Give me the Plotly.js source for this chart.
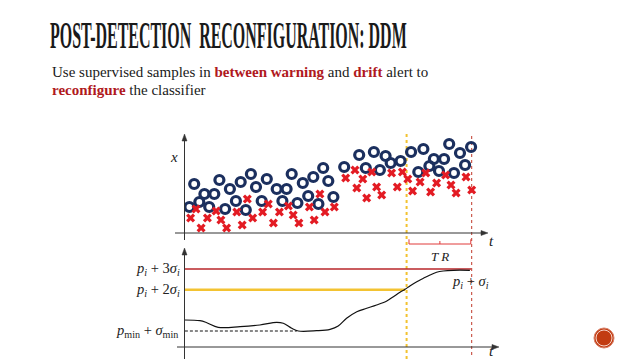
<!DOCTYPE html>
<html>
<head>
<meta charset="utf-8">
<script src="https://cdn.plot.ly/plotly-3.0.1.min.js"></script>
<style>
html,body{margin:0;padding:0;background:#fff;}
#chart{width:638px;height:359px;}
.gtitle{transform-box:fill-box;transform-origin:0% 50%;transform:scaleX(0.42);}
</style>
</head>
<body>
<div id="chart"></div>
<script>
// ---- Top panel: samples over time (t) vs feature value (x) ----
const circleT = [1.8,3.4,5.1,6.8,8.4,10.1,11.8,13.7,15.3,17.3,18.9,20.6,22.3,24.0,25.9,27.6,30.9,32.8,34.2,35.9,37.8,39.6,41.4,43.1,44.8,46.4,48.1,49.8,53.4,58.4,60.6,63.3,65.3,67.2,68.9,72.2,75.7,78.1,79.8,81.8,83.3,85.0,86.7,88.4,90.0,92.0,93.7,95.7];
const circleX = [2.6,4.9,3.1,3.9,2.6,3.9,5.3,2.4,4.4,3.2,5.1,2.3,5.9,4.6,3.2,5.4,4.4,3.2,4.4,5.9,3.0,5.0,3.7,5.6,2.9,6.5,5.2,3.6,6.6,7.8,6.5,8.1,6.3,7.7,7.0,7.2,8.1,6.1,8.4,6.7,7.4,6.2,7.4,8.9,6.0,8.0,6.8,8.6];
const crossT = [2.2,4.0,5.7,7.8,10.7,12.3,14.2,17.6,19.4,21.1,22.9,26.2,28.1,29.8,31.8,34.8,36.4,38.3,41.8,43.4,45.3,47.0,50.1,53.9,57.0,57.6,59.6,60.9,62.6,64.2,65.9,69.2,71.1,72.8,74.6,76.2,78.7,80.6,82.2,84.2,87.2,89.0,90.7,94.0,95.9];
const crossX = [1.5,2.4,0.5,1.5,2.2,1.3,0.5,2.1,0.8,3.4,1.5,2.1,2.9,1.0,2.1,2.7,1.8,1.0,2.6,1.3,3.9,2.1,2.6,5.5,6.3,4.5,5.4,3.5,6.1,4.6,3.8,6.0,4.6,6.1,5.4,4.2,5.1,6.0,4.1,5.0,5.8,4.8,4.0,5.6,4.3];

// Detection events (time)
const warningT = 74.2;
const driftT = 95.9;

// ---- Bottom panel: error rate p_i + sigma_i over time ----
const curveT = [0.3,5.3,7.6,11.4,18.7,25.3,30.9,33.1,35.9,38.1,44.2,48.7,51.4,54.2,57.6,60.9,64.2,67.6,69.8,72.0,73.7,75.3,77.6,79.8,82.0,84.2,86.4,89.8,95.3];
const curveP = [2.7,2.63,2.43,1.97,2.03,2.2,2.47,2.37,1.87,1.6,1.63,1.77,2.1,2.87,3.53,3.87,4.2,4.6,5.03,5.47,5.77,6.1,6.53,6.87,7.2,7.47,7.6,7.67,7.67];
const driftLevelT = [0.3, 95.7], driftLevel = [7.8, 7.8];
const warnLevelT = [0.3, 73.7], warnLevel = [5.73, 5.73];
const minLevelT = [0.3, 37.6], minLevel = [1.6, 1.6];

const serif = "Liberation Serif, DejaVu Serif, serif";
const px = v => v/638, py = v => 1 - v/359;

const traces = [
  {x: circleT, y: circleX, xaxis:'x', yaxis:'y', type:'scatter', mode:'markers',
   marker:{symbol:'circle-open', size:9, color:'#1b2f5e', line:{width:3.2, color:'#1b2f5e'}}, hoverinfo:'skip'},
  {x: crossT, y: crossX, xaxis:'x', yaxis:'y', type:'scatter', mode:'markers',
   marker:{symbol:'x', size:8, color:'#e31b23', line:{width:0}}, hoverinfo:'skip'},
  {x: driftLevelT, y: driftLevel, xaxis:'x2', yaxis:'y2', mode:'lines', line:{color:'#b8262a', width:1.5}, hoverinfo:'skip'},
  {x: warnLevelT, y: warnLevel, xaxis:'x2', yaxis:'y2', mode:'lines', line:{color:'#f3c332', width:2.5}, hoverinfo:'skip'},
  {x: minLevelT, y: minLevel, xaxis:'x2', yaxis:'y2', mode:'lines', line:{color:'#111', width:1, dash:'3px,2px'}, hoverinfo:'skip'},
  {x: curveT, y: curveP, xaxis:'x2', yaxis:'y2', mode:'lines', line:{color:'#111', width:1.2, shape:'spline'}, hoverinfo:'skip'}
];

const ax = {visible:false, fixedrange:true};
// axis line + filled arrowhead, in page pixels converted to paper coords
const axisLine = (x0, y0, x1, y1) => ({type:'line', xref:'paper', yref:'paper', x0:px(x0), y0:py(y0), x1:px(x1), y1:py(y1), line:{color:'#333', width:1}});
const head = (pts) => ({type:'path', xref:'paper', yref:'paper',
  path:'M ' + pts.map(p => px(p[0]) + ',' + py(p[1])).join(' L ') + ' Z', fillcolor:'#333', line:{color:'#333', width:0.5}});
const lbl = (text, x, y, xanchor, size) => ({xref:'paper', yref:'paper', x:px(x), y:py(y), xanchor:xanchor||'center', yanchor:'middle',
  showarrow:false, text:text, font:{family:serif, size:size||13, color:'#222'}});

const layout = {
  width:638, height:359, margin:{l:0,r:0,t:0,b:0},
  paper_bgcolor:'#fff', plot_bgcolor:'rgba(0,0,0,0)', showlegend:false,
  title:{text:'POST-DETECTION\u00a0\u00a0RECONFIGURATION: DDM', x:px(50), xanchor:'left', xref:'paper',
         y:py(35), yanchor:'middle', yref:'paper', font:{family:serif, size:38, weight:'bold', color:'#1a1a1a'}},
  xaxis: Object.assign({domain:[px(184), px(486)], range:[0, 100.67], anchor:'y'}, ax),
  yaxis: Object.assign({domain:[py(233), py(136)], range:[0, 9.7], anchor:'x'}, ax),
  xaxis2: Object.assign({domain:[px(184), px(486)], range:[0, 100.67], anchor:'y2'}, ax),
  yaxis2: Object.assign({domain:[py(347), py(250)], range:[0, 9.7], anchor:'x2'}, ax),
  shapes:[
    axisLine(184.5, 240, 184.5, 138),
    head([[184.5,134],[182,141],[187,141]]),
    axisLine(175, 233, 484, 233),
    head([[488,233],[481,230.5],[481,235.5]]),
    axisLine(184.5, 359, 184.5, 252),
    head([[184.5,248],[182,255],[187,255]]),
    axisLine(177, 347, 495, 347),
    head([[499,347],[492,344.5],[492,349.5]]),
    {type:'line', xref:'x', yref:'paper', x0:warningT, x1:warningT, y0:0, y1:py(133), line:{color:'#f2c230', width:2, dash:'dot'}, layer:'below'},
    {type:'line', xref:'x', yref:'paper', x0:driftT, x1:driftT, y0:py(355), y1:py(133), line:{color:'#c0392b', width:1, dash:'dot'}, layer:'below'},
    {type:'path', xref:'x', yref:'paper',
     path:`M 75,${py(239.3)} L 75,${py(244)} L 95.6,${py(244)} L 95.6,${py(239.3)} M 85.3,${py(244)} L 85.3,${py(241)}`,
     line:{color:'#e03a3a', width:1}},
    {type:'circle', xref:'paper', yref:'paper', x0:px(594), x1:px(614), y0:py(348), y1:py(328), fillcolor:'#c23c12', line:{color:'#d9826a', width:1}},
    {type:'circle', xref:'paper', yref:'paper', x0:px(596), x1:px(612), y0:py(346), y1:py(330), fillcolor:'rgba(0,0,0,0)', line:{color:'#f6d6cc', width:1}}
  ],
  annotations:[
    {xref:'paper', yref:'paper', x:px(50), y:py(72), xanchor:'left', yanchor:'middle', showarrow:false,
     text:"Use supervised samples in <b><span style='color:#b0191d'>between warning</span></b> and <b><span style='color:#b0191d'>drift</span></b> alert to",
     font:{family:serif, size:15, color:'#1a1a1a'}},
    {xref:'paper', yref:'paper', x:px(50), y:py(90), xanchor:'left', yanchor:'middle', showarrow:false,
     text:"<b><span style='color:#b0191d'>reconfigure</span></b> the classifier",
     font:{family:serif, size:15, color:'#1a1a1a'}},
    lbl('<i>x</i>', 174, 157, 'center', 15),
    lbl('<i>t</i>', 491, 241, 'center', 15),
    lbl('<i>T R</i>', 440, 256, 'center', 13),
    lbl('<i>t</i>', 491, 351, 'center', 15),
    lbl('<i>p<sub>i</sub></i> + 3<i>σ<sub>i</sub></i>', 182, 269, 'right', 14.5),
    lbl('<i>p<sub>i</sub></i> + 2<i>σ<sub>i</sub></i>', 182, 290, 'right', 14.5),
    lbl('<i>p</i><sub>min</sub> + <i>σ</i><sub>min</sub>', 180, 331, 'right', 14.5),
    lbl('<i>p<sub>i</sub></i> + <i>σ<sub>i</sub></i>', 470, 282, 'center', 14.5)
  ]
};

Plotly.newPlot('chart', traces, layout, {staticPlot:true, displayModeBar:false});
</script>
</body>
</html>
